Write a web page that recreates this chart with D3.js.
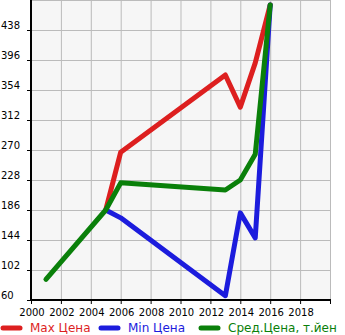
<!DOCTYPE html>
<html>
<head>
<meta charset="utf-8">
<script src="https://cdn.jsdelivr.net/npm/d3@7"></script>
<style>
  body { margin: 0; background: #fff; }
  text { font-family: "DejaVu Sans", sans-serif; }
</style>
</head>
<body>
<svg width="345" height="335"></svg>
<script>
// Значения
const yearTicks = [2000, 2002, 2004, 2006, 2008, 2010, 2012, 2014, 2016, 2018];
const priceTicks = [60, 102, 144, 186, 228, 270, 312, 354, 396, 438];

const maxYears = [2005, 2006, 2013, 2014, 2015, 2016];
const maxPrice = [186, 267, 375, 330, 392, 473];

const minYears = [2005, 2006, 2013, 2014, 2015, 2016];
const minPrice = [186, 175, 66, 182, 147, 473];

const avgYears = [2001, 2005, 2006, 2013, 2014, 2015, 2016];
const avgPrice = [89, 186, 224, 214, 228, 264, 473];

const legendNames = ["Max Цена", "Min Цена", "Сред.Цена, т.йен"];
const colors = ["#dd1f1f", "#1c1cdd", "#0a800a"];

const svg = d3.select("svg");

const x = d3.scaleLinear().domain([2000, 2020]).range([31, 330]);
const y = d3.scaleLinear().domain([60, 480]).range([300, 0]);

// фон области графика
svg.append("rect")
  .attr("x", x(2000)).attr("y", y(480))
  .attr("width", x(2020) - x(2000)).attr("height", y(60) - y(480))
  .attr("fill", "#f6f6f6");

// сетка
const grid = svg.append("g").attr("stroke", "#bbb").attr("stroke-width", 1);
grid.selectAll(".vx")
  .data(d3.range(2002, 2021, 2))
  .enter().append("line")
  .attr("x1", d => x(d) + 0.5).attr("x2", d => x(d) + 0.5)
  .attr("y1", y(480)).attr("y2", y(60));
grid.selectAll(".hy")
  .data(priceTicks.slice(1).concat([480]))
  .enter().append("line")
  .attr("x1", x(2000)).attr("x2", x(2020))
  .attr("y1", d => y(d) + 0.5).attr("y2", d => y(d) + 0.5);

// оси
const axisG = svg.append("g");
axisG.selectAll(".ytick")
  .data(priceTicks)
  .enter().append("line")
  .attr("x1", 27).attr("x2", 31)
  .attr("y1", d => y(d) + 0.5).attr("y2", d => y(d) + 0.5)
  .attr("stroke", "#000");
axisG.selectAll(".ylab")
  .data(priceTicks)
  .enter().append("text")
  .attr("x", 1).attr("y", d => y(d) - 1)
  .attr("font-size", 10)
  .text(d => d);
axisG.selectAll(".xtick")
  .data(yearTicks.concat([2020]))
  .enter().append("line")
  .attr("x1", d => x(d) + 0.5).attr("x2", d => x(d) + 0.5)
  .attr("y1", 300).attr("y2", 304)
  .attr("stroke", "#000");
axisG.selectAll(".xlab")
  .data(yearTicks)
  .enter().append("text")
  .attr("x", d => x(d) + 1).attr("y", 316)
  .attr("text-anchor", "middle")
  .attr("font-size", 10)
  .text(d => d);
axisG.append("line")
  .attr("x1", 31).attr("x2", 31).attr("y1", 0).attr("y2", 301)
  .attr("stroke", "#000").attr("stroke-width", 2);
axisG.append("line")
  .attr("x1", 30).attr("x2", 331).attr("y1", 300).attr("y2", 300)
  .attr("stroke", "#000").attr("stroke-width", 2);

// линии
const series = [
  { years: maxYears, values: maxPrice },
  { years: minYears, values: minPrice },
  { years: avgYears, values: avgPrice }
];
const line = d3.line().x(d => x(d[0])).y(d => y(d[1]));
series.forEach((s, i) => {
  svg.append("path")
    .datum(s.years.map((yr, j) => [yr, s.values[j]]))
    .attr("d", line)
    .attr("fill", "none")
    .attr("stroke", colors[i])
    .attr("stroke-width", 5)
    .attr("stroke-linejoin", "round")
    .attr("stroke-linecap", "round");
});

// легенда
const legendX = [0, 98, 198];
const legend = svg.append("g");
legendNames.forEach((name, i) => {
  legend.append("line")
    .attr("x1", legendX[i] + 3).attr("x2", legendX[i] + 20)
    .attr("y1", 328).attr("y2", 328)
    .attr("stroke", colors[i]).attr("stroke-width", 5)
    .attr("stroke-linecap", "round");
  legend.append("text")
    .attr("x", legendX[i] + 30).attr("y", 332)
    .attr("font-size", 12)
    .attr("fill", colors[i])
    .text(name);
});
</script>
</body>
</html>
